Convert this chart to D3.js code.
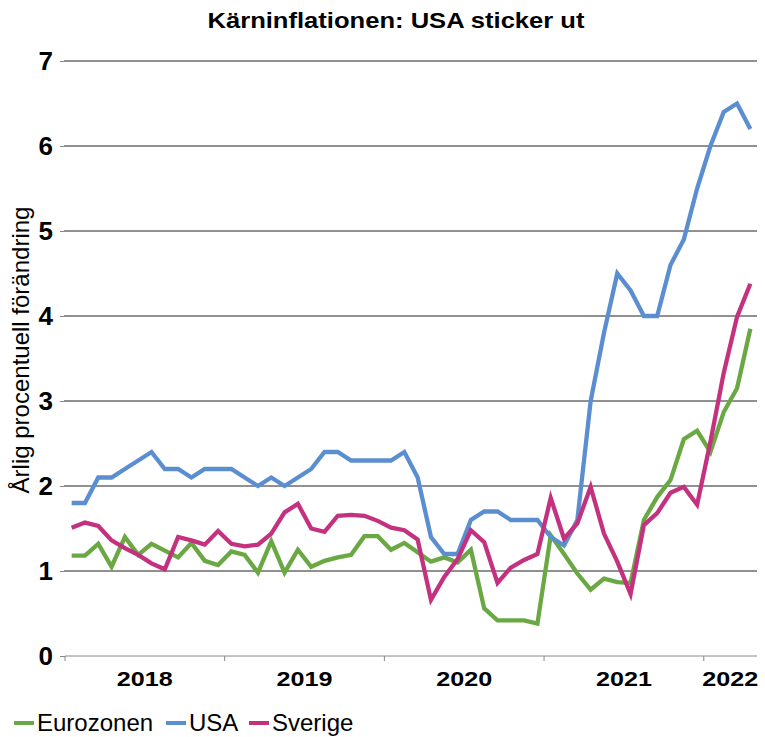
<!DOCTYPE html>
<html>
<head>
<meta charset="utf-8">
<style>
  body { margin: 0; background: #fff; }
  svg text { font-family: "Liberation Sans", Arial, sans-serif; fill: #000; }
</style>
</head>
<body>
<script src="https://cdn.jsdelivr.net/npm/d3@7"></script>
<script>
// monthly categories, Jan 2018 - Apr 2022
var months = [
  "2018-01","2018-02","2018-03","2018-04","2018-05","2018-06","2018-07","2018-08","2018-09","2018-10","2018-11","2018-12",
  "2019-01","2019-02","2019-03","2019-04","2019-05","2019-06","2019-07","2019-08","2019-09","2019-10","2019-11","2019-12",
  "2020-01","2020-02","2020-03","2020-04","2020-05","2020-06","2020-07","2020-08","2020-09","2020-10","2020-11","2020-12",
  "2021-01","2021-02","2021-03","2021-04","2021-05","2021-06","2021-07","2021-08","2021-09","2021-10","2021-11","2021-12",
  "2022-01","2022-02","2022-03","2022-04"
];
var years = ["2018", "2019", "2020", "2021", "2022"];
var yTicks = [0, 1, 2, 3, 4, 5, 6, 7];

var eurozonen = [
  1.18,1.18,1.32,1.05,1.40,1.19,1.32,1.24,1.16,1.33,1.12,1.07,
  1.23,1.19,0.98,1.35,0.98,1.25,1.05,1.12,1.16,1.19,1.41,1.41,
  1.25,1.33,1.22,1.11,1.16,1.10,1.25,0.56,0.42,0.42,0.42,0.38,
  1.42,1.20,0.97,0.78,0.91,0.87,0.86,1.60,1.87,2.07,2.55,2.65,
  2.40,2.87,3.15,3.85
];
var usa = [
  1.8,1.8,2.1,2.1,2.2,2.3,2.4,2.2,2.2,2.1,2.2,2.2,
  2.2,2.1,2.0,2.1,2.0,2.1,2.2,2.4,2.4,2.3,2.3,2.3,
  2.3,2.4,2.1,1.4,1.2,1.2,1.6,1.7,1.7,1.6,1.6,1.6,
  1.4,1.3,1.6,3.0,3.8,4.5,4.3,4.0,4.0,4.6,4.9,5.5,
  6.0,6.4,6.5,6.2
];
var sverige = [
  1.51,1.57,1.53,1.36,1.27,1.19,1.09,1.02,1.40,1.36,1.31,1.47,
  1.32,1.29,1.31,1.44,1.69,1.79,1.50,1.46,1.65,1.66,1.65,1.59,
  1.51,1.48,1.37,0.66,0.93,1.14,1.48,1.34,0.86,1.04,1.13,1.20,
  1.86,1.38,1.56,1.99,1.44,1.11,0.73,1.54,1.68,1.92,1.99,1.78,
  2.52,3.33,3.99,4.38
];

var series = [
  {name: "Eurozonen", color: "#6aa843", values: eurozonen},
  {name: "USA", color: "#5b8ed0", values: usa},
  {name: "Sverige", color: "#c4317f", values: sverige}
];

var width = 765, height = 737;
var margin = {top: 61, right: 8, bottom: 81, left: 65};

var x = d3.scaleBand().domain(months).range([margin.left, width - margin.right]).padding(0);
var y = d3.scaleLinear().domain([0, 7]).range([height - margin.bottom, margin.top]);

var svg = d3.select("body").append("svg")
  .attr("width", width)
  .attr("height", height);

// gridlines
svg.append("g")
  .selectAll("line")
  .data(yTicks.filter(function(d) { return d > 0; }))
  .enter().append("line")
  .attr("x1", margin.left - 1)
  .attr("x2", width - margin.right)
  .attr("y1", function(d) { return y(d); })
  .attr("y2", function(d) { return y(d); })
  .attr("stroke", "#222")
  .attr("stroke-width", 1);

// y axis labels + small ticks
var y_axis = d3.axisLeft(y).tickValues(yTicks).tickSize(5).tickPadding(7).tickFormat(d3.format("d"));
var gy = svg.append("g")
  .attr("transform", "translate(" + margin.left + ",0)")
  .call(y_axis);
gy.select(".domain").remove();
gy.selectAll(".tick line").attr("stroke", "#888");
gy.selectAll("text")
  .attr("font-size", 26)
  .attr("font-weight", "bold")
  .attr("fill", "#000");

// x axis line with year ticks
svg.append("line")
  .attr("x1", margin.left)
  .attr("x2", width - margin.right)
  .attr("y1", y(0))
  .attr("y2", y(0))
  .attr("stroke", "#888")
  .attr("stroke-width", 1);

svg.append("g")
  .selectAll("line")
  .data(years)
  .enter().append("line")
  .attr("x1", function(d) { return x(d + "-01"); })
  .attr("x2", function(d) { return x(d + "-01"); })
  .attr("y1", y(0))
  .attr("y2", y(0) + 5)
  .attr("stroke", "#888");

svg.append("g")
  .selectAll("text")
  .data(years)
  .enter().append("text")
  .attr("x", function(d) {
    var ms = months.filter(function(m) { return m.slice(0, 4) === d; });
    return (x(ms[0]) + x(ms[ms.length - 1]) + x.bandwidth()) / 2;
  })
  .attr("y", 686)
  .attr("text-anchor", "middle")
  .attr("font-size", 21)
  .attr("font-weight", "bold")
  .attr("textLength", 56)
  .attr("lengthAdjust", "spacingAndGlyphs")
  .text(function(d) { return d; });

// lines
var line = d3.line()
  .x(function(d, i) { return x(months[i]) + x.bandwidth() / 2; })
  .y(function(d) { return y(d); });

svg.append("g")
  .selectAll("path")
  .data(series)
  .enter().append("path")
  .attr("d", function(s) { return line(s.values); })
  .attr("fill", "none")
  .attr("stroke", function(s) { return s.color; })
  .attr("stroke-width", 4.3)
  .attr("stroke-linejoin", "miter");

// title
svg.append("text")
  .attr("x", 396)
  .attr("y", 28)
  .attr("text-anchor", "middle")
  .attr("font-size", 21.5)
  .attr("font-weight", "bold")
  .attr("textLength", 377)
  .attr("lengthAdjust", "spacingAndGlyphs")
  .text("Kärninflationen: USA sticker ut");

// y label
svg.append("text")
  .attr("transform", "translate(29,350) rotate(-90)")
  .attr("text-anchor", "middle")
  .attr("font-size", 24)
  .text("Årlig procentuell förändring");

// legend
var legendX = [14, 166, 249];
var lg = svg.append("g").selectAll("g")
  .data(series)
  .enter().append("g")
  .attr("transform", function(d, i) { return "translate(" + legendX[i] + ",723)"; });
lg.append("line")
  .attr("x1", 0).attr("x2", 20)
  .attr("y1", 0).attr("y2", 0)
  .attr("stroke", function(d) { return d.color; })
  .attr("stroke-width", 4);
lg.append("text")
  .attr("x", 23)
  .attr("y", 8)
  .attr("font-size", 24)
  .text(function(d) { return d.name; });
</script>
</body>
</html>
